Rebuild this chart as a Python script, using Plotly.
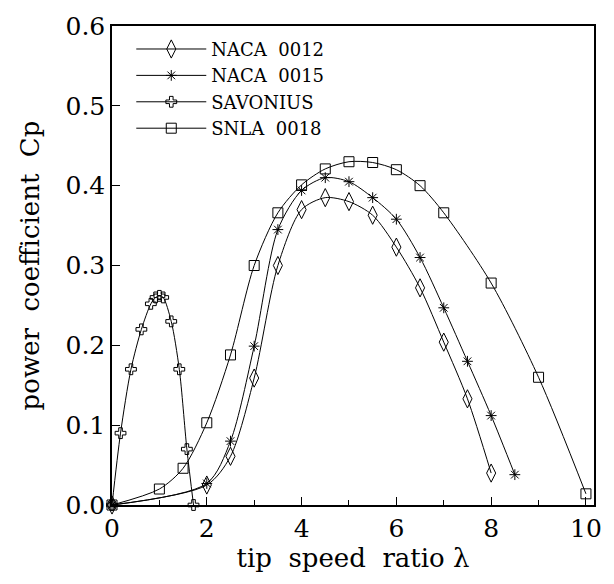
import plotly.graph_objects as go

# NACA 0012 (diamonds)
naca12_x = [0, 2, 2.5, 3, 3.5, 4, 4.5, 5, 5.5, 6, 6.5, 7, 7.5, 8]
naca12_y = [0, 0.025, 0.061, 0.159, 0.300, 0.370, 0.385, 0.380, 0.363, 0.323, 0.272, 0.204, 0.133, 0.040]

# NACA 0015 (asterisks)
naca15_x = [0, 2, 2.5, 3, 3.5, 4, 4.5, 5, 5.5, 6, 6.5, 7, 7.5, 8, 8.5]
naca15_y = [0, 0.027, 0.080, 0.199, 0.345, 0.394, 0.410, 0.405, 0.385, 0.358, 0.310, 0.247, 0.180, 0.112, 0.038]

# SAVONIUS
savo_x = [0, 0.18, 0.4, 0.62, 0.82, 0.92, 1.0, 1.08, 1.25, 1.42, 1.58, 1.72]
savo_y = [0, 0.090, 0.170, 0.220, 0.252, 0.260, 0.262, 0.260, 0.230, 0.170, 0.070, 0.0]

# SNLA 0018 (squares)
snla_x = [0, 1, 1.5, 2, 2.5, 3, 3.5, 4, 4.5, 5, 5.5, 6, 6.5, 7, 8, 9, 10]
snla_y = [0, 0.020, 0.046, 0.103, 0.188, 0.300, 0.366, 0.401, 0.421, 0.430, 0.429, 0.420, 0.400, 0.366, 0.278, 0.160, 0.014]

series = [
    ("NACA\u00a0\u00a00012", naca12_x, naca12_y, "diamond-tall-open", 13),
    ("NACA\u00a0\u00a00015", naca15_x, naca15_y, "asterisk-open", 9),
    ("SAVONIUS", savo_x, savo_y, "cross-open", 9),
    ("SNLA\u00a0\u00a00018", snla_x, snla_y, "square-open", 10),
]

x_ticks = [0, 2, 4, 6, 8, 10]
y_ticks = [0.0, 0.1, 0.2, 0.3, 0.4, 0.5, 0.6]

FONT = "DejaVu Serif"
SP = "\u00a0"

fig = go.Figure()
for name, xs, ys, sym, sz in series:
    fig.add_trace(go.Scatter(
        x=xs, y=ys, name=name, mode="lines+markers",
        line=dict(color="black", width=1, shape="spline", smoothing=0.8),
        marker=dict(symbol=sym, size=sz, color="black", line=dict(width=1, color="black")),
        cliponaxis=False,
    ))

fig.update_layout(
    width=614, height=584,
    margin=dict(l=112, r=14, t=22, b=79),
    paper_bgcolor="white", plot_bgcolor="white",
    font=dict(family=FONT, color="black", size=22),
    showlegend=True,
    legend=dict(
        x=0.04, y=0.99, xanchor="left", yanchor="top",
        bgcolor="rgba(0,0,0,0)", font=dict(family=FONT, size=18),
        itemwidth=70, tracegroupgap=0, traceorder="normal",
    ),
)
fig.update_xaxes(
    range=[0, 10.17], tickvals=x_ticks, ticktext=[str(v) for v in x_ticks],
    ticks="inside", ticklen=8, tickwidth=1, tickcolor="black",
    minor=dict(tickvals=[1, 3, 5, 7, 9], ticks="inside", ticklen=5, tickcolor="black"),
    showline=True, linecolor="black", linewidth=1.5, mirror=True,
    showgrid=False, zeroline=False,
    tickfont=dict(family=FONT, size=25),
    title=dict(text=f"tip{SP}{SP}speed{SP}{SP}ratio{SP}λ", font=dict(family=FONT, size=26), standoff=6),
)
fig.update_yaxes(
    range=[0, 0.6], tickvals=y_ticks, ticktext=[f"{v:.1f}" for v in y_ticks],
    ticks="inside", ticklen=8, tickwidth=1, tickcolor="black",
    showline=True, linecolor="black", linewidth=1.5, mirror=True,
    showgrid=False, zeroline=False,
    tickfont=dict(family=FONT, size=25),
    title=dict(text=f"power{SP}{SP}coefficient{SP}{SP}Cp", font=dict(family=FONT, size=26), standoff=18),
)

fig.write_html("out.html")
